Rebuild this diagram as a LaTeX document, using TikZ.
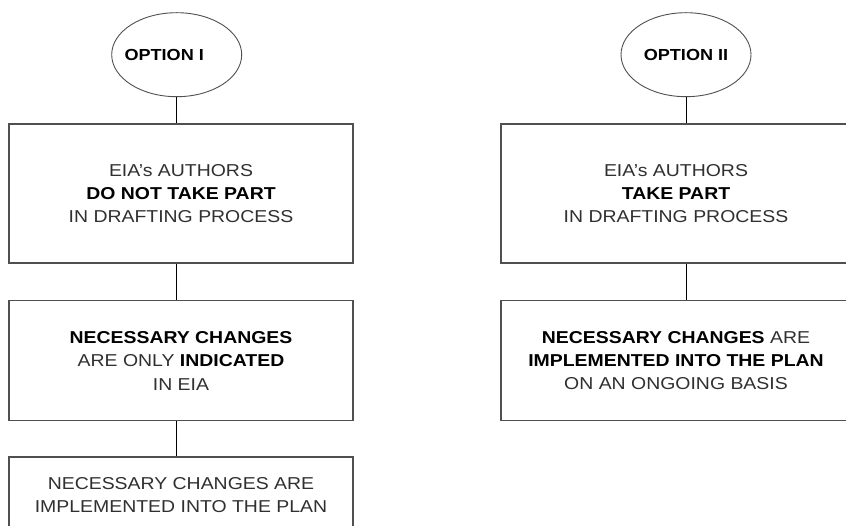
\documentclass[tikz,border=0pt]{standalone}
\usepackage{fontspec}
\setmainfont{Liberation Sans}[FakeStretch=1.13]
\usetikzlibrary{shapes.geometric}
\definecolor{boxline}{HTML}{505050}
\definecolor{txtgray}{HTML}{303030}
\begin{document}
\begin{tikzpicture}[x=1pt,y=-1pt,
  optnode/.style={ellipse,draw=boxline,line width=0.9pt,minimum width=130pt,minimum height=84pt,inner sep=0pt,
    font=\fontsize{16}{20}\selectfont\bfseries},
  stepbox/.style={rectangle,draw=boxline,line width=1.2pt,minimum width=344pt,inner sep=0pt,align=center,
    text=txtgray,font=\fontsize{17.2}{23.3}\selectfont},
  conn/.style={draw=black,line width=0.8pt}]
\clip (0,0) rectangle (846,526);
\fill[white] (0,0) rectangle (846,526);
% left column
\node[optnode] (e1) at (176.7,54.7) {\hspace*{-25pt}OPTION I};
\node[stepbox,minimum height=139pt] (b1) at (181,193.5) {EIA's AUTHORS\\\textbf{\color{black}DO NOT TAKE PART}\\IN DRAFTING PROCESS};
\node[stepbox,minimum height=120pt] (b2) at (181,360.7) {\textbf{\color{black}NECESSARY CHANGES}\\ARE ONLY \textbf{\color{black}INDICATED}\\IN EIA};
\node[stepbox,minimum height=76pt] (b3) at (181,495) {NECESSARY CHANGES ARE\\IMPLEMENTED INTO THE PLAN};
\draw[conn] (e1.south) -- (e1.south |- b1.north);
\draw[conn] (e1.south |- b1.south) -- (e1.south |- b2.north);
\draw[conn] (e1.south |- b2.south) -- (e1.south |- b3.north);
% right column
\node[optnode] (e2) at (686,54.7) {OPTION II};
\node[stepbox,minimum width=350pt,minimum height=139pt] (r1) at (676,193.5) {EIA's AUTHORS\\\textbf{\color{black}TAKE PART}\\IN DRAFTING PROCESS};
\node[stepbox,minimum width=350pt,minimum height=120pt] (r2) at (676,360.7) {\textbf{\color{black}NECESSARY CHANGES} ARE\\\textbf{\color{black}IMPLEMENTED INTO THE PLAN}\\ON AN ONGOING BASIS};
\draw[conn] (e2.south) -- (e2.south |- r1.north);
\draw[conn] (e2.south |- r1.south) -- (e2.south |- r2.north);
\end{tikzpicture}
\end{document}
